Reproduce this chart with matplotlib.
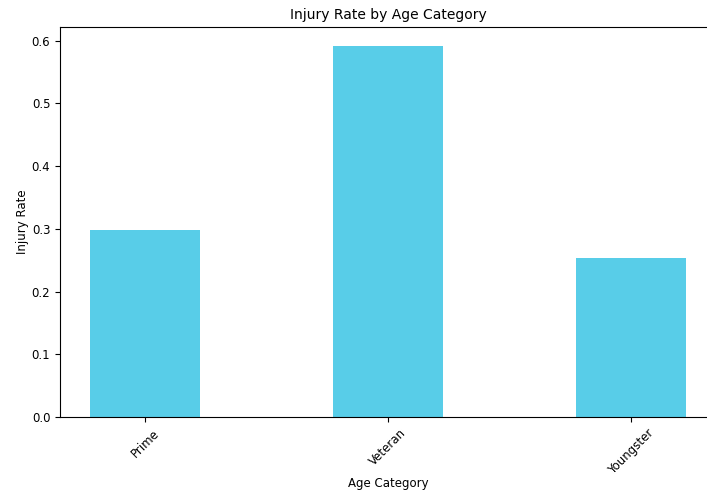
import matplotlib
matplotlib.use("Agg")
import matplotlib.pyplot as plt

categories = ["Prime", "Veteran", "Youngster"]
injury_rate = [0.299, 0.592, 0.253]

fig = plt.figure(figsize=(7.07, 4.93), dpi=100)
ax = fig.add_axes([60 / 707, 76 / 493, 656 / 707, 390 / 493])

ax.bar(range(len(categories)), injury_rate, width=0.45, color="#58cde8")
ax.set_xlim(-0.35, 2.35)
ax.set_ylim(0, 0.622)
ax.set_xticks(range(len(categories)))
ax.set_xticklabels(categories, rotation=45, fontsize=8.5)
ax.tick_params(axis="y", labelsize=8.5)

ax.set_title("Injury Rate by Age Category", fontsize=10)
ax.set_xlabel("Age Category", fontsize=8.5, labelpad=0)
ax.set_ylabel("Injury Rate", fontsize=8.5, labelpad=2)

fig.savefig("out.png", dpi=100)
